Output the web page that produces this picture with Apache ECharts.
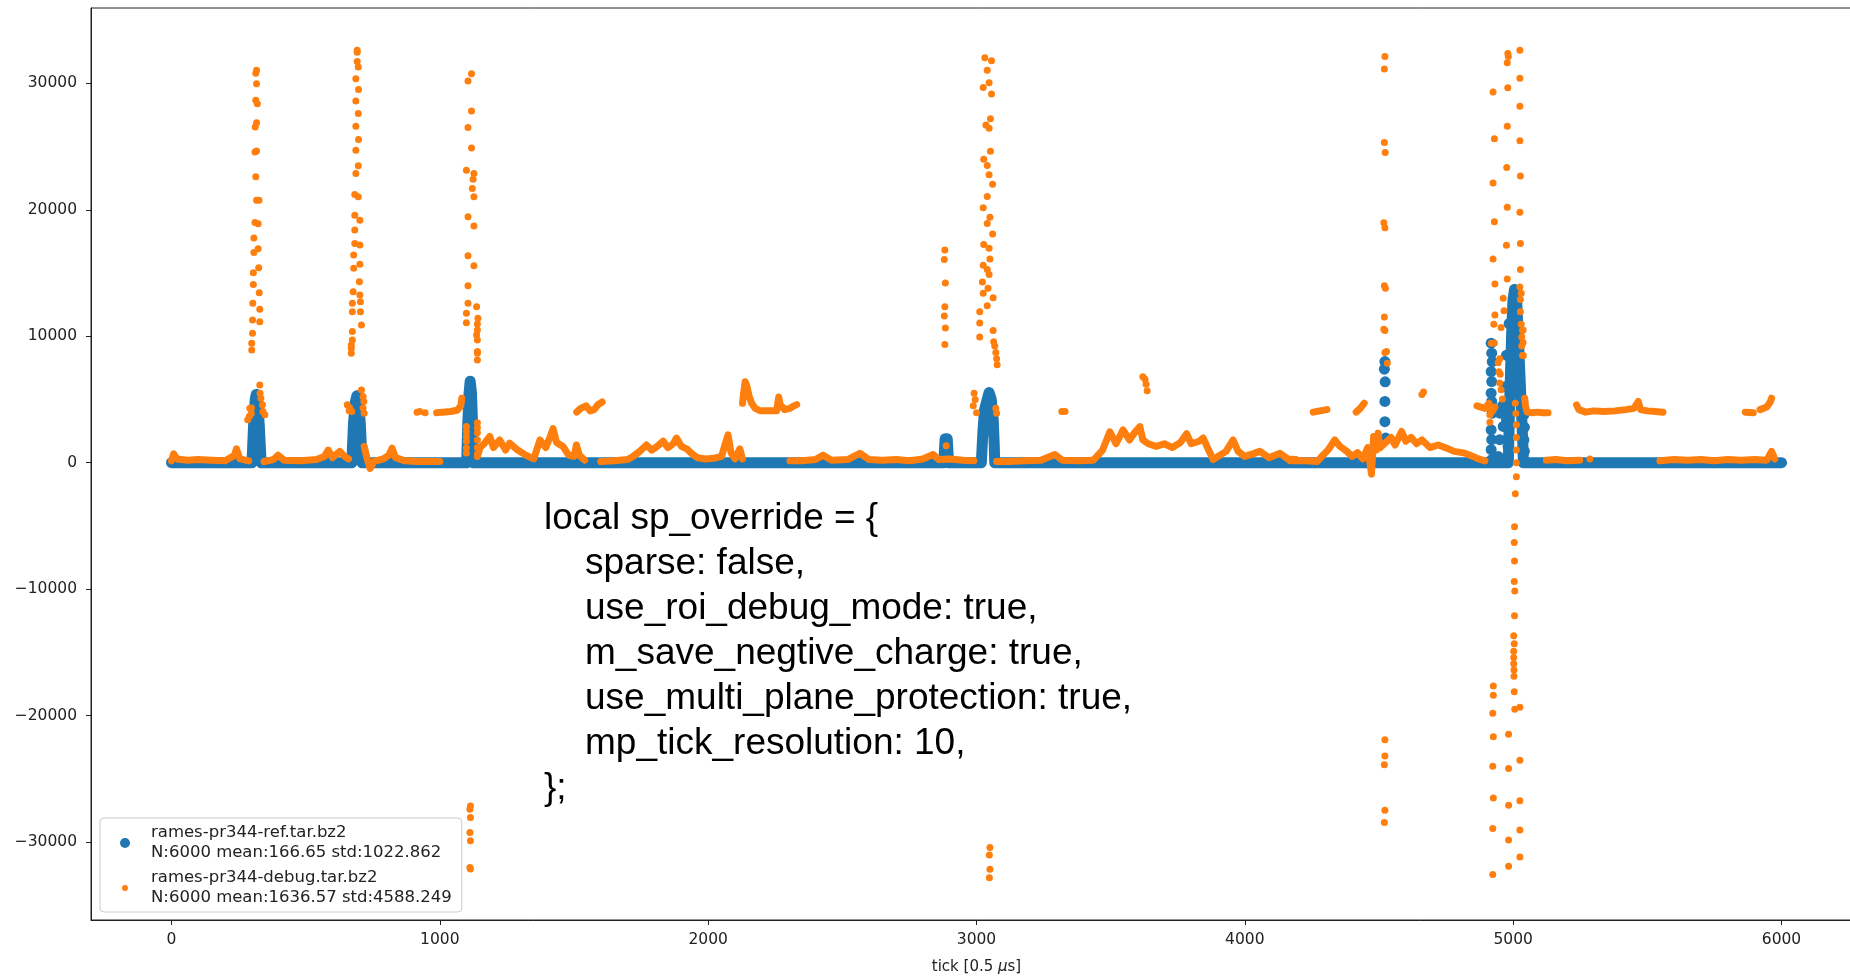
<!DOCTYPE html>
<html>
<head>
<meta charset="utf-8">
<script src="https://cdn.jsdelivr.net/npm/echarts@6/dist/echarts.min.js"></script>
<style>
  html, body { margin: 0; padding: 0; background: #fff; overflow: hidden; }
  #chart { width: 1863px; height: 976px; }
</style>
</head>
<body>
<div id="chart"></div>
<script>
// legend names + stats lines
const seriesNames = ['rames-pr344-ref.tar.bz2', 'rames-pr344-debug.tar.bz2'];
const seriesStats = ['N:6000 mean:166.65 std:1022.862', 'N:6000 mean:1636.57 std:4588.249'];

const xTicks = [0, 1000, 2000, 3000, 4000, 5000, 6000];
const yTicks = [-30000, -20000, -10000, 0, 10000, 20000, 30000];

// ref: dense baseline + peaks (read as a continuous band)
const refBand = [
  [0, 0], [300, 0], [306, 3000], [312, 5000], [316, 5400], [320, 5000], [327, 3000], [334, 0],
  [672, 0], [678, 3000], [685, 4800], [691, 5300], [697, 4800], [704, 3000], [710, 0],
  [1100, 0], [1104, 3000], [1109, 5500], [1113, 6450], [1118, 5500], [1122, 3000], [1125, 0],
  [2878, 0], [2883, 1900], [2891, 1900], [2896, 0],
  [3018, 0], [3024, 2500], [3030, 4200], [3040, 5000], [3047, 5550], [3055, 5000], [3062, 3500], [3066, 1500], [3068, 0],
  [4982, 0], [4986, 4000], [4990, 7000], [4994, 10000], [4999, 12800], [5005, 13700], [5012, 13200], [5018, 10500],
  [5024, 7500], [5030, 4500], [5036, 1500], [5038, 0],
  [6000, 0]
];
// ref: separate dots
const refDots = [
  [4522, 8000], [4520, 7400], [4523, 6400], [4522, 4850], [4522, 3250], [4525, 1950],
  [4918, 9450], [4920, 8660], [4922, 8000], [4918, 7210], [4920, 6420], [4918, 5500], [4920, 4840],
  [4922, 3920], [4918, 2600], [4920, 1820], [4918, 1030], [4920, 240],
  [4950, 3920], [4963, 2870], [4950, 1820], [4975, 3390], [4944, 500], [4981, 1290], [4960, 4500],
  [4970, 6000], [4975, 8500], [4985, 11000],
  [5040, 3800], [5042, 2800], [5040, 1800], [5042, 900]
];

// debug: continuous runs of points
const dbgRuns = [
  [[0, 150], [8, 700], [20, 300], [60, 200], [100, 250], [150, 200], [200, 150], [235, 600], [242, 1100], [255, 300], [288, 150]],
  [[345, 100], [380, 250], [397, 600], [420, 200], [480, 150], [540, 250], [570, 500], [584, 1000], [600, 400], [627, 900], [645, 500], [660, 300]],
  [[718, 1300], [728, 400], [740, -450], [755, 100], [790, 300], [810, 600], [822, 1150], [835, 400], [870, 150], [920, 100], [1000, 100]],
  [[988, 3950], [1010, 4000], [1040, 4050], [1065, 4150], [1078, 4500], [1082, 5100]],
  [[1140, 500], [1150, 1200], [1165, 1500], [1186, 2080], [1200, 1200], [1223, 1800], [1245, 1000], [1260, 1550], [1290, 1000], [1320, 600], [1350, 300], [1373, 1800], [1395, 1200], [1410, 2000], [1422, 2700], [1435, 1600], [1459, 1290], [1480, 600], [1500, 500], [1509, 1400], [1520, 600], [1540, 200]],
  [[1510, 4000], [1525, 4300], [1545, 4500], [1560, 4100], [1575, 4200], [1590, 4600], [1605, 4800]],
  [[1600, 100], [1650, 150], [1700, 250], [1720, 500], [1745, 900], [1770, 1400], [1790, 1000], [1810, 1300], [1832, 1700], [1850, 1200], [1870, 1500], [1882, 1950], [1900, 1300], [1920, 1100], [1940, 700], [1960, 400], [1990, 300], [2020, 350], [2050, 500], [2068, 1800], [2074, 2200], [2085, 800], [2100, 300], [2118, 1100], [2128, 300]],
  [[2128, 4700], [2132, 5500], [2138, 6400], [2145, 6000], [2152, 5300], [2162, 4700], [2175, 4300], [2195, 4100], [2230, 4100], [2255, 4100], [2263, 5200], [2268, 4600], [2285, 4200], [2305, 4300], [2320, 4500], [2330, 4600]],
  [[2305, 150], [2350, 150], [2400, 250], [2428, 600], [2460, 200], [2520, 250], [2565, 750], [2600, 250], [2650, 200], [2700, 250], [2750, 150], [2800, 300], [2838, 650], [2860, 250], [2900, 300], [2950, 200], [2990, 150]],
  [[3075, 100], [3120, 100], [3180, 150], [3240, 200], [3292, 650], [3320, 200], [3380, 150], [3434, 200]],
  [[3440, 300], [3470, 1000], [3497, 2450], [3520, 1500], [3546, 2600], [3570, 1800], [3590, 2400], [3609, 2850], [3620, 1800], [3640, 1500], [3670, 1300], [3700, 1500], [3730, 1200], [3760, 1600], [3783, 2300], [3800, 1500], [3830, 1700], [3845, 1950], [3865, 1000], [3882, 250], [3900, 500], [3930, 900], [3956, 1800], [3975, 900], [4000, 500], [4030, 700], [4056, 900], [4090, 400], [4131, 750], [4160, 300], [4190, 250]],
  [[4170, 150], [4230, 150], [4270, 100], [4291, 600], [4310, 1000], [4335, 1800], [4354, 1300], [4380, 900], [4400, 500], [4420, 800], [4440, 300], [4458, 1200], [4472, -900], [4480, 2080], [4490, 1000], [4497, 2340], [4503, 1160], [4520, 1500], [4530, 1700], [4545, 2000], [4560, 1400], [4584, 2470], [4600, 1700], [4620, 2000], [4640, 1500], [4660, 1800], [4690, 1200], [4720, 1400], [4751, 1160], [4780, 900], [4820, 760], [4850, 500], [4870, 300], [4895, 150]],
  [[4255, 4000], [4280, 4100], [4306, 4200]],
  [[4415, 4000], [4430, 4300], [4445, 4700]],
  [[4865, 4500], [4880, 4400], [4895, 4300], [4910, 4700], [4920, 4000], [4932, 4400]],
  [[5043, 5100], [5046, 4500], [5052, 4000], [5070, 3950], [5090, 4000], [5110, 3950], [5130, 3950]],
  [[5124, 200], [5160, 250], [5200, 150], [5248, 200]],
  [[5236, 4580], [5245, 4200], [5270, 4000], [5300, 4100], [5340, 4050], [5380, 4100], [5420, 4200], [5450, 4300], [5466, 4840], [5475, 4200], [5500, 4100], [5530, 4050], [5558, 4000]],
  [[5547, 150], [5600, 250], [5650, 200], [5700, 250], [5750, 150], [5800, 250], [5850, 200], [5900, 250], [5945, 200], [5963, 900], [5975, 300]],
  [[5865, 4000], [5895, 3950]],
  [[5920, 4200], [5945, 4400], [5958, 4800], [5963, 5100]]
];

// debug: isolated points (spikes etc.)
const dbgDots = [
  [284, 3400], [290, 3650], [292, 4300], [298, 4320], [297, 3900], [329, 6150], [330, 5500], [333, 5100], [339, 4580], [341, 4050], [348, 3790],
  [317, 31020], [314, 30800], [317, 29970], [314, 28650], [320, 28390], [317, 26870], [312, 26550], [317, 24650], [311, 24570],
  [314, 22600], [317, 20760], [326, 20760], [311, 19000], [323, 18900], [307, 17760], [323, 16910], [307, 16630], [325, 15420],
  [305, 15020], [305, 14100], [327, 13440], [303, 12600], [329, 12130], [302, 11290], [329, 11150], [302, 10230], [299, 9440], [299, 8920],
  [655, 4580], [664, 4340], [662, 4100], [672, 4050], [708, 5760], [714, 5230], [717, 4840], [714, 4320], [718, 3920],
  [692, 32600], [692, 32460], [692, 31730], [696, 31280], [687, 30360], [697, 29500], [687, 28600], [696, 27600], [687, 26600],
  [697, 25550], [687, 24700], [696, 23470], [687, 22870], [683, 21210], [696, 21020], [683, 19570], [702, 19180], [683, 18390],
  [683, 17340], [702, 17210], [679, 16420], [702, 15690], [679, 15370], [700, 14310], [677, 13520], [702, 13260], [704, 12730],
  [674, 12600], [674, 11940], [704, 11940], [708, 10890], [674, 10370], [674, 9710], [670, 9310], [670, 9050], [670, 8660],
  [915, 4000], [925, 4050], [945, 3950],
  [1099, 2870], [1099, 2470], [1099, 2080], [1099, 1690], [1099, 1170], [1099, 770],
  [1140, 3160], [1140, 2760], [1140, 2370], [1140, 1800], [1140, 1200], [1140, 700],
  [1118, 30760], [1105, 30180], [1118, 27810], [1105, 26500], [1118, 24890], [1099, 23130], [1127, 22870], [1124, 22420], [1121, 21680],
  [1127, 21020], [1105, 19440], [1127, 18710], [1105, 16370], [1127, 15580], [1105, 13990], [1105, 12600], [1137, 12340], [1099, 11810],
  [1142, 11420], [1099, 11070], [1140, 10970], [1140, 10500], [1137, 10100], [1140, 9710], [1140, 8790], [1140, 8660], [1140, 8130],
  [1114, -27130], [1112, -27390], [1114, -28040], [1112, -29230], [1114, -29890], [1112, -31990], [1114, -32120],
  [2882, 16810], [2880, 16060], [2884, 14210], [2882, 12330], [2880, 11600], [2884, 10650], [2882, 9350], [2887, 1340],
  [2988, 4500], [2991, 5500], [2995, 5000], [3000, 3950], [3075, 3920], [3072, 4300],
  [3031, 32010], [3056, 31770], [3040, 31030], [3047, 30050], [3025, 29660], [3056, 29160], [3052, 27190], [3035, 26700], [3047, 26450],
  [3052, 24630], [3027, 23990], [3040, 23500], [3047, 22760], [3060, 22020], [3040, 21040], [3025, 20150], [3050, 19410], [3040, 18920],
  [3060, 18080], [3027, 17250], [3047, 16950], [3050, 16110], [3025, 15620], [3040, 15270], [3047, 14880], [3022, 14290], [3043, 13800],
  [3025, 13400], [3062, 13050], [3040, 12420], [3012, 11930], [3012, 11040], [3062, 10450], [3012, 9950], [3064, 9560], [3068, 9220],
  [3072, 8720], [3075, 8230], [3077, 7740],
  [3050, -30420], [3048, -31010], [3050, -32140], [3048, -32800],
  [3318, 4050], [3330, 4050], [3620, 6800], [3628, 6600], [3632, 6200], [3636, 5700], [4660, 5400], [4666, 5600],
  [4522, 32110], [4520, 31130], [4520, 25320], [4523, 24530], [4518, 18970], [4522, 18570], [4520, 13990], [4524, 13800],
  [4520, 11530], [4518, 10550], [4522, 10450], [4522, 8720], [4528, 8790], [4531, 7870],
  [4522, -21900], [4522, -23180], [4520, -23870], [4522, -27470], [4520, -28450],
  [4925, 29300], [4930, 25610], [4925, 22120], [4930, 19060], [4925, 16110], [4932, 14140], [4932, 11680], [4928, 10940], [4930, 9460],
  [4926, -17650], [4926, -18390], [4924, -19800], [4926, -21660], [4924, -23990], [4926, -26500], [4924, -28920], [4924, -32550],
  [4980, 32360], [4982, 32120], [4978, 31620], [4980, 29650], [4978, 26600], [4976, 23350], [4978, 20200], [4975, 17190], [4978, 14530],
  [4983, -21460], [4983, -24170], [4983, -27070], [4983, -29830], [4983, -31900],
  [5025, 32610], [5025, 30390], [5025, 28180], [5025, 25460], [5027, 22660], [5025, 19800], [5027, 17340], [5027, 15270], [5025, 13890],
  [5027, 12910], [5027, 11930], [5030, 10940], [5032, 9950], [5032, 9220], [5035, 8480],
  [5025, -19340], [5025, -23520], [5025, -26730], [5025, -29040], [5025, -31160],
  [5008, 4700], [5010, 3900], [5012, 3000], [5012, 2000], [5012, 1000], [5012, 0], [5012, -1100], [5008, -2450], [5005, -5060],
  [5004, -6300], [5005, -7770], [5004, -9390], [5006, -10140], [5005, -12100], [5002, -13680], [5004, -14320], [5002, -14910],
  [5002, -15400], [5002, -15900], [5003, -16390], [5003, -16880], [5004, -18110], [5006, -19490],
  [4963, 13010], [4966, 12020], [4955, 10700], [4950, 8230], [4952, 7000], [4955, 5770], [4960, 5030], [4944, 7900], [4947, 7200],
  [4950, 6300], [4919, 9450], [4913, 3800], [4913, 3200], [5030, 13400], [5035, 10450], [5038, 8480], [5037, 10500], [5037, 9500],
  [5286, 300]
];

// annotation text
const codeLines = [
  'local sp_override = {',
  '    sparse: false,',
  '    use_roi_debug_mode: true,',
  '    m_save_negtive_charge: true,',
  '    use_multi_plane_protection: true,',
  '    mp_tick_resolution: 10,',
  '};'
];

const BLUE = '#1f77b4';
const ORANGE = '#ff7f0e';
const INK = '#222';

const fmtNum = (v) => (v < 0 ? '\u2212' + Math.abs(v) : String(v));

const series = [
  {
    name: seriesNames[0], type: 'line', data: refBand, symbol: 'none', z: 2,
    lineStyle: { width: 11, color: BLUE, cap: 'round', join: 'round' }
  },
  {
    name: seriesNames[0], type: 'scatter', data: refDots, symbolSize: 11, z: 2,
    itemStyle: { color: BLUE, opacity: 1 }
  }
];
dbgRuns.forEach((run) => {
  series.push({
    name: seriesNames[1], type: 'line', data: run, symbol: 'none', z: 3,
    lineStyle: { width: 7, color: ORANGE, cap: 'round', join: 'round' }
  });
});
series.push({
  name: seriesNames[1], type: 'scatter', data: dbgDots, symbolSize: 7, z: 3,
  itemStyle: { color: ORANGE, opacity: 1 }
});

const chart = echarts.init(document.getElementById('chart'), null, { renderer: 'canvas' });
chart.setOption({
  animation: false,
  backgroundColor: '#fff',
  grid: {
    left: 91, right: 1, top: 8, bottom: 56, outerBoundsMode: 'none',
    show: true, borderColor: INK, borderWidth: 1, backgroundColor: 'transparent'
  },
  xAxis: {
    type: 'value', min: -300, max: 6300,
    axisLine: { show: true, onZero: false, lineStyle: { color: INK, width: 1 } },
    axisTick: { show: true, customValues: xTicks, length: 5, lineStyle: { color: INK } },
    axisLabel: { customValues: xTicks, color: INK, fontSize: 15.5, fontFamily: 'DejaVu Sans', margin: 12, formatter: fmtNum },
    splitLine: { show: false },
    name: 'tick [0.5 {i|μ}s]',
    nameLocation: 'middle', nameGap: 40,
    nameTextStyle: {
      color: INK, fontSize: 15, fontFamily: 'DejaVu Sans',
      rich: { i: { fontStyle: 'italic', fontSize: 15, fontFamily: 'DejaVu Sans', color: INK } }
    }
  },
  yAxis: {
    type: 'value', min: -36150, max: 35950,
    axisLine: { show: true, onZero: false, lineStyle: { color: INK, width: 1 } },
    axisTick: { show: true, customValues: yTicks, length: 5, lineStyle: { color: INK } },
    axisLabel: { customValues: yTicks, color: INK, fontSize: 15.5, fontFamily: 'DejaVu Sans', margin: 14, formatter: fmtNum },
    splitLine: { show: false }
  },
  legend: {
    orient: 'vertical', left: 100, top: 818,
    padding: [5, 10, 4, 18], itemWidth: 42, itemHeight: 10, itemGap: 5,
    backgroundColor: 'rgba(255,255,255,0.8)', borderColor: '#cccccc', borderWidth: 1, borderRadius: 4,
    selectedMode: false,
    data: [
      { name: seriesNames[0], icon: 'circle', itemStyle: { color: BLUE } },
      { name: seriesNames[1], icon: 'circle', itemStyle: { color: ORANGE, borderColor: '#fff', borderWidth: 4 } }
    ],
    formatter: (name) => name + '\n' + seriesStats[seriesNames.indexOf(name)],
    textStyle: { color: INK, fontSize: 16.5, lineHeight: 20, fontFamily: 'DejaVu Sans' }
  },
  graphic: codeLines.map((line, i) => ({
    type: 'text',
    x: line.startsWith('    ') ? 585 : 544,
    y: 519 + i * 45,
    z: 100,
    style: {
      text: line.trim(),
      fill: '#000',
      font: '37px "Liberation Sans", Arial, sans-serif',
      verticalAlign: 'middle'
    }
  })),
  series: series
});
</script>
</body>
</html>
